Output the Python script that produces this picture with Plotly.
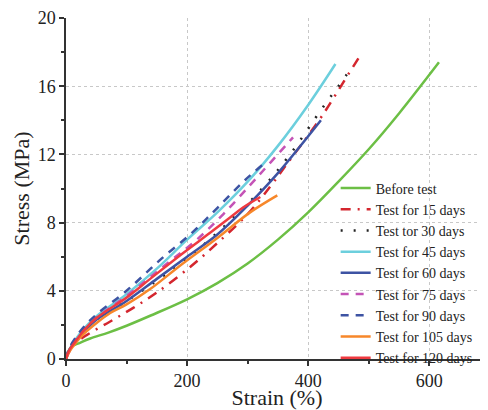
import plotly.graph_objects as go

# ---- data (strain %, stress MPa) ----
names = ["Before test", "Test for 15 days", "Test tor 30 days", "Test for 45 days",
         "Test for 60 days", "Test for 75 days", "Test for 90 days",
         "Test for 105 days", "Test for 120 days"]

before_x = [0, 3, 10, 23, 40, 70, 100, 140, 200, 250, 300, 350, 400, 450, 500, 550, 616]
before_y = [0, 0.4, 0.75, 0.95, 1.2, 1.55, 1.95, 2.55, 3.5, 4.45, 5.6, 7.0, 8.6, 10.4, 12.3, 14.4, 17.4]

d15_x = [0, 5, 15, 34, 73, 111, 150, 205, 250, 300, 337, 362, 416, 440, 461, 486]
d15_y = [0, 0.4, 0.9, 1.4, 2.2, 3.0, 3.9, 5.4, 6.8, 8.5, 10.1, 11.3, 13.9, 15.2, 16.4, 17.8]

d30_x = [0, 5, 15, 30, 50, 100, 150, 197, 268, 324, 370, 425, 450, 474]
d30_y = [0, 0.5, 1.0, 1.6, 2.3, 3.4, 4.6, 5.8, 8.0, 10.0, 12.0, 14.8, 16.0, 17.2]

d45_x = [0, 5, 15, 30, 50, 100, 150, 200, 250, 300, 350, 400, 445]
d45_y = [0, 0.5, 1.1, 1.8, 2.5, 3.8, 5.3, 7.0, 8.6, 10.4, 12.5, 14.9, 17.3]

d60_x = [0, 5, 15, 30, 50, 100, 150, 200, 250, 300, 350, 421]
d60_y = [0, 0.5, 1.0, 1.6, 2.3, 3.4, 4.7, 6.0, 7.3, 9.0, 10.9, 14.0]

d75_x = [0, 5, 15, 30, 50, 100, 167, 216, 260, 304, 332, 375]
d75_y = [0, 0.5, 1.1, 1.7, 2.4, 3.7, 5.6, 7.0, 8.5, 10.2, 11.3, 13.0]

d90_x = [0, 5, 15, 30, 50, 100, 155, 208, 251, 296, 325]
d90_y = [0, 0.6, 1.2, 1.9, 2.6, 4.0, 5.8, 7.4, 8.9, 10.5, 11.4]

d105_x = [0, 5, 15, 30, 50, 73, 100, 139, 193, 250, 304, 349]
d105_y = [0, 0.4, 0.9, 1.5, 2.1, 2.7, 3.2, 4.1, 5.6, 7.1, 8.6, 9.6]

d120_x = [0, 5, 15, 30, 50, 100, 139, 193, 238, 271, 293, 321]
d120_y = [0, 0.5, 1.0, 1.7, 2.4, 3.6, 4.7, 6.2, 7.4, 8.3, 8.9, 9.5]

xs = [before_x, d15_x, d30_x, d45_x, d60_x, d75_x, d90_x, d105_x, d120_x]
ys = [before_y, d15_y, d30_y, d45_y, d60_y, d75_y, d90_y, d105_y, d120_y]

colors = ["#6cbf45", "#d4262e", "#222222", "#6ccfdd", "#3d53a3",
          "#c453b6", "#3d53a3", "#f7872a", "#ef3a40"]
dashes = ["solid", "10px,7px,2px,7px", "2px,11px", "solid", "solid",
          "8px,7px", "8px,7px", "solid", "solid"]

x_ticks = [0, 200, 400, 600]
y_ticks = [0, 4, 8, 12, 16, 20]

fig = go.Figure()
for n, x, y, c, d in zip(names, xs, ys, colors, dashes):
    fig.add_trace(go.Scatter(
        x=x, y=y, name=n, mode="lines",
        line=dict(color=c, width=2.5, dash=d, shape="spline", smoothing=1.0),
    ))

serif = "Liberation Serif, Times New Roman, serif"
axis_common = dict(
    showline=True, linecolor="#333333", linewidth=1.5,
    ticks="outside", ticklen=5, tickwidth=1.5, tickcolor="#333333",
    showgrid=True, gridcolor="#c8c8c8", griddash="dot", gridwidth=1,
    zeroline=False, mirror=False, automargin=False,
    tickfont=dict(family=serif, size=18, color="#222222"),
)

fig.update_xaxes(
    range=[0, 697], tickvals=x_ticks,
    minor=dict(dtick=100, tick0=0, ticks="outside", ticklen=3, tickwidth=1.5,
               tickcolor="#333333", showgrid=False),
    title=dict(text="Strain (%)", font=dict(family=serif, size=22, color="#222222"), standoff=6),
    **axis_common,
)
fig.update_yaxes(
    range=[0, 20], tickvals=y_ticks,
    minor=dict(dtick=2, tick0=0, ticks="outside", ticklen=3, tickwidth=1.5,
               tickcolor="#333333", showgrid=False),
    title=dict(text="Stress (MPa)", font=dict(family=serif, size=22, color="#222222"), standoff=2),
    **axis_common,
)

# page body has an 8px margin, so the figure is 480x402 and margins are reduced by 8
fig.update_layout(
    width=480, height=402,
    margin=dict(l=58, r=0, t=10, b=51, autoexpand=False),
    paper_bgcolor="white", plot_bgcolor="white",
    showlegend=True,
    legend=dict(
        x=0.639, y=0.547, xanchor="left", yanchor="top",
        bgcolor="rgba(0,0,0,0)", borderwidth=0,
        font=dict(family=serif, size=14, color="#222222"),
        itemwidth=30, tracegroupgap=0,
    ),
)

fig.write_html("out.html")
